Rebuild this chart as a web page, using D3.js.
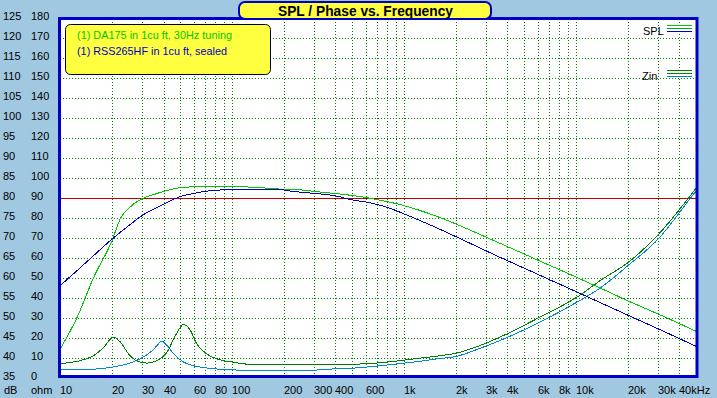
<!DOCTYPE html>
<html>
<head>
<meta charset="utf-8">
<script src="https://cdn.jsdelivr.net/npm/d3@7/dist/d3.min.js"></script>
<style>
html,body{margin:0;padding:0;background:#a0c8e0;}
svg{display:block;}
text{font-family:"Liberation Sans",Arial,sans-serif;}
</style>
</head>
<body>
<script>
// ---------- data ----------
const titleText = "SPL / Phase vs. Frequency";
const legendNames = ["(1) DA175 in 1cu ft, 30Hz tuning", "(1) RSS265HF in 1cu ft, sealed"];

const dbTicks  = [125,120,115,110,105,100,95,90,85,80,75,70,65,60,55,50,45,40,35];
const ohmTicks = [180,170,160,150,140,130,120,110,100,90,80,70,60,50,40,30,20,10,0];
const xTickValues = [10,20,30,40,60,80,100,200,300,400,600,1000,2000,3000,4000,6000,8000,10000,20000,30000,40000];
const xTickLabels = ["10","20","30","40","60","80","100","200","300","400","600","1k","2k","3k","4k","6k","8k","10k","20k","30k","40kHz"];
const xGridValues = [20,30,40,50,60,70,80,90,100,200,300,400,500,600,700,800,900,
  1000,2000,3000,4000,5000,6000,7000,8000,9000,10000,20000,30000,40000];
const refLineDb = 80;

// DA175 SPL (dB)
const da175SplFreq = [10,12.5,15.6,20,22.3,25,30,35,40,48,57,65,100,145,200,258,296,405,530,690,990,1400,3600,6150,10100,13800,20000,30000,50000];
const da175SplDb   = [42.5,50.3,60.3,69.6,75.0,77.6,80.0,81.0,81.8,82.6,82.9,83.0,83.0,82.7,82.3,82.1,81.8,81.2,80.6,79.75,78.25,76.2,68.8,64.35,60.25,57.6,54.4,51.1,46.75];

// RSS265HF SPL (dB)
const rssSplFreq = [10,12.5,15.6,20,24.4,30,40,46,50,60,70,90,100,145,190,227,296,405,484,635,795,990,1360,3600,6150,10100,20000,30000,50000];
const rssSplDb   = [58.3,62.0,65.75,69.9,72.9,75.8,78.6,79.9,80.5,81.3,81.8,82.2,82.3,82.3,82.2,81.75,81.3,80.6,79.75,78.9,77.8,76.2,73.7,65.3,60.8,56.6,50.8,47.4,43.0];

// DA175 impedance (ohm)
const da175ZFreq = [10,13.1,15.6,17.9,20.3,22.3,24.9,27.9,31.9,36.5,41.7,46.6,52,57,62,71,85,100,139,300,577,795,1130,1550,2040,2700,3600,6150,10100,13800,20000,30000,43800,50000];
const da175ZOhm  = [7.5,9,11.5,15.7,20.7,18.2,12.3,8.7,7.7,9,13.2,21.5,27,24,17.3,12.3,9.3,8.2,6.8,6.8,7.3,8.2,9.8,11.2,12.8,16.2,20.7,30.7,40.7,49,58,72,89,95.5];

// RSS265HF impedance (ohm)
const rssZFreq = [10,15.6,20,24.4,29,33.4,36.5,38.7,41.7,45.6,52,65,100,150,300,386,530,690,906,1130,1550,2040,2700,3600,6150,10100,13800,20000,30000,45000,50000];
const rssZOhm  = [4.5,4.7,5.7,7.3,9.8,13.2,16.5,18.7,16.5,12.3,8.2,5.7,4.3,4.0,4.2,4.8,5.3,6.2,7.3,8.2,9.8,11.2,14.8,19,28.2,38.2,45.3,56.5,69.8,89,94];

// ---------- chart ----------
const W = 717, H = 398;
const svg = d3.select("body").append("svg").attr("width", W).attr("height", H);
svg.append("rect").attr("width", W).attr("height", H).attr("fill", "#a0c8e0");

const x = d3.scaleLog().domain([10, 50000]).range([60.5, 696.5]);
const yDb = d3.scaleLinear().domain([35, 125]).range([378.5, 18.5]);
const yOhm = d3.scaleLinear().domain([0, 180]).range([378.5, 18.5]);
const px = v => Math.floor(v) + 0.5;

// plot background
svg.append("rect").attr("x", 60).attr("y", 19).attr("width", 636).attr("height", 357).attr("fill", "#ffffff");

const grid = svg.append("g").attr("stroke", "#008000").attr("stroke-width", 1)
  .attr("stroke-dasharray", "1,2").attr("shape-rendering", "crispEdges");
grid.selectAll("line.h").data(ohmTicks.filter(d => d > 0 && d < 180)).join("line")
  .attr("x1", 60).attr("x2", 696)
  .attr("y1", d => px(yOhm(d))).attr("y2", d => px(yOhm(d)));
grid.selectAll("line.v").data(xGridValues).join("line")
  .attr("y1", 19).attr("y2", 376)
  .attr("x1", d => px(x(d))).attr("x2", d => px(x(d)));

// reference line 80 dB
svg.append("line").attr("x1", 60).attr("x2", 696)
  .attr("y1", px(yDb(refLineDb))).attr("y2", px(yDb(refLineDb)))
  .attr("stroke", "#c00000").attr("stroke-width", 1).attr("shape-rendering", "crispEdges");

// clip
svg.append("clipPath").attr("id", "plotclip").append("rect")
  .attr("x", 60).attr("y", 19).attr("width", 636).attr("height", 357);
const curves = svg.append("g").attr("clip-path", "url(#plotclip)");

function drawCurve(freqs, vals, yScale, color) {
  const pts = freqs.map((f, i) => [f, vals[i]]);
  const line = d3.line().x(d => x(d[0])).y(d => yScale(d[1])).curve(d3.curveMonotoneX);
  curves.append("path").attr("d", line(pts)).attr("fill", "none")
    .attr("stroke", color).attr("stroke-width", 1).attr("shape-rendering", "crispEdges");
}
drawCurve(rssZFreq, rssZOhm, yOhm, "#0088cc");
drawCurve(da175ZFreq, da175ZOhm, yOhm, "#008000");
drawCurve(da175SplFreq, da175SplDb, yDb, "#00c800");
drawCurve(rssSplFreq, rssSplDb, yDb, "#0000c0");

// frame
svg.append("rect").attr("x", 59.5).attr("y", 18.5).attr("width", 637.5).attr("height", 358)
  .attr("fill", "none").attr("stroke", "#0000c8").attr("stroke-width", 3);

// left axis labels
const lab = svg.append("g").attr("font-size", "11px").attr("fill", "#000");
lab.selectAll("text.db").data(dbTicks).join("text").attr("class", "db")
  .attr("x", 3).attr("y", d => yDb(d) + 1).text(d => d);
lab.selectAll("text.ohm").data(ohmTicks).join("text").attr("class", "ohm")
  .attr("x", 31).attr("y", d => yOhm(d) + 1).text(d => d);
lab.append("text").attr("x", 4).attr("y", 393.5).text("dB");
lab.append("text").attr("x", 31).attr("y", 393.5).text("ohm");
lab.selectAll("text.xl").data(xTickValues).join("text").attr("class", "xl")
  .attr("x", d => Math.floor(x(d))).attr("y", 393.5).text((d, i) => xTickLabels[i]);

// right legend
const rl = svg.append("g");
rl.append("text").attr("x", 643).attr("y", 35).attr("font-size", "11px").text("SPL");
rl.append("text").attr("x", 642).attr("y", 80).attr("font-size", "11px").text("Zin");
const rlLines = [[25.5, "#00c800"], [28.5, "#00b000"], [31.5, "#0000c0"], [70.5, "#008000"], [73.5, "#008000"], [76.5, "#0088cc"]];
rl.selectAll("line").data(rlLines).join("line")
  .attr("x1", 667).attr("x2", 692).attr("y1", d => d[0]).attr("y2", d => d[0])
  .attr("stroke", d => d[1]).attr("stroke-width", 1).attr("shape-rendering", "crispEdges");

// legend box
svg.append("rect").attr("x", 65.5).attr("y", 24.5).attr("width", 205).attr("height", 50)
  .attr("rx", 5).attr("fill", "#ffff40").attr("stroke", "#000").attr("stroke-width", 1);
svg.append("text").attr("x", 77).attr("y", 39).attr("font-size", "11px").attr("fill", "#00c800")
  .attr("textLength", 155).attr("lengthAdjust", "spacingAndGlyphs").text(legendNames[0]);
svg.append("text").attr("x", 77).attr("y", 55).attr("font-size", "11px").attr("fill", "#0000c0")
  .attr("textLength", 150).attr("lengthAdjust", "spacingAndGlyphs").text(legendNames[1]);

// title box
svg.append("rect").attr("x", 239).attr("y", 2).attr("width", 252).attr("height", 17)
  .attr("rx", 6).attr("fill", "#ffff40").attr("stroke", "#0000c8").attr("stroke-width", 2);
svg.append("text").attr("x", 278).attr("y", 16).attr("font-size", "14px").attr("font-weight", "bold")
  .attr("textLength", 175).attr("lengthAdjust", "spacingAndGlyphs").text(titleText);
</script>
</body>
</html>
